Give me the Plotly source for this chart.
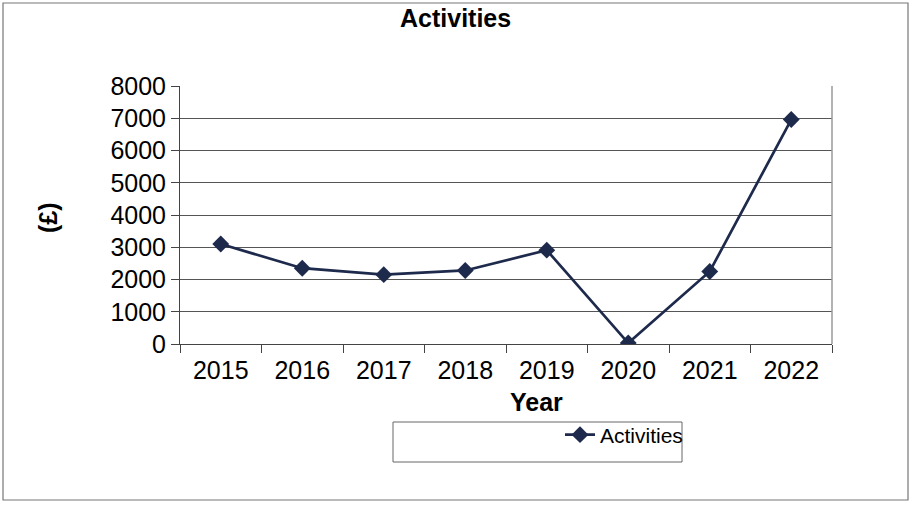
import plotly.graph_objects as go

years = ["2015", "2016", "2017", "2018", "2019", "2020", "2021", "2022"]
activities = [3100, 2350, 2150, 2280, 2910, 30, 2250, 6960]
y_ticks = [0, 1000, 2000, 3000, 4000, 5000, 6000, 7000, 8000]

W, H = 911, 505
L, R, T, B = 180, 79, 86, 161
pw, ph = W - L - R, H - T - B


def px(x):
    return (x - L) / pw


def py(y):
    return (H - B - y) / ph


line_col = "#1e2a4c"
font = "Liberation Sans, Arial, sans-serif"

fig = go.Figure()
fig.add_trace(go.Scatter(
    x=years, y=activities, name="Activities", mode="lines+markers",
    line=dict(color=line_col, width=2.7),
    marker=dict(symbol="diamond", size=13, color=line_col),
))

fig.update_layout(
    width=W, height=H,
    margin=dict(l=L, r=R, t=T, b=B),
    paper_bgcolor="white", plot_bgcolor="white",
    font=dict(family=font, color="black"),
    showlegend=True,
    legend=dict(x=px(688), y=py(435), xanchor="right", yanchor="middle",
                bgcolor="rgba(0,0,0,0)", font=dict(size=21, family=font),
                itemwidth=30),
    xaxis=dict(
        type="category", tickson="boundaries", ticks="outside", ticklen=8,
        tickcolor="#444", showgrid=False, showline=True, linecolor="#444",
        mirror=False, tickfont=dict(size=25), range=[-0.5, 7.5],
        zeroline=False, ticklabelstandoff=4,
    ),
    yaxis=dict(
        range=[0, 8000], tickvals=y_ticks, ticks="outside", ticklen=8,
        tickcolor="#444", showgrid=True, gridcolor="#555", gridwidth=1,
        showline=True, linecolor="#444", tickfont=dict(size=25),
        zeroline=False,
    ),
    shapes=[
        # plot frame on the right
        dict(type="line", xref="paper", yref="paper", x0=1, x1=1, y0=0, y1=1,
             line=dict(color="#999", width=1.5)),
        # legend box
        dict(type="rect", xref="paper", yref="paper",
             x0=px(393), x1=px(682), y0=py(422), y1=py(462),
             line=dict(color="#666", width=1)),
        # outer chart border
        dict(type="rect", xref="paper", yref="paper",
             x0=px(3), x1=px(908), y0=py(3), y1=py(500),
             line=dict(color="#777", width=1.2)),
    ],
    annotations=[
        dict(text="<b>Activities</b>", xref="paper", yref="paper",
             x=px(455), y=py(18), xanchor="center", yanchor="middle",
             showarrow=False, font=dict(size=25)),
        dict(text="<b>Year</b>", xref="paper", yref="paper",
             x=px(536), y=py(402), xanchor="center", yanchor="middle",
             showarrow=False, font=dict(size=25)),
        dict(text="<b>(£)</b>", xref="paper", yref="paper",
             x=px(48), y=py(218), xanchor="center", yanchor="middle",
             showarrow=False, textangle=-90, font=dict(size=25)),
    ],
)

fig.write_html("out.html")
